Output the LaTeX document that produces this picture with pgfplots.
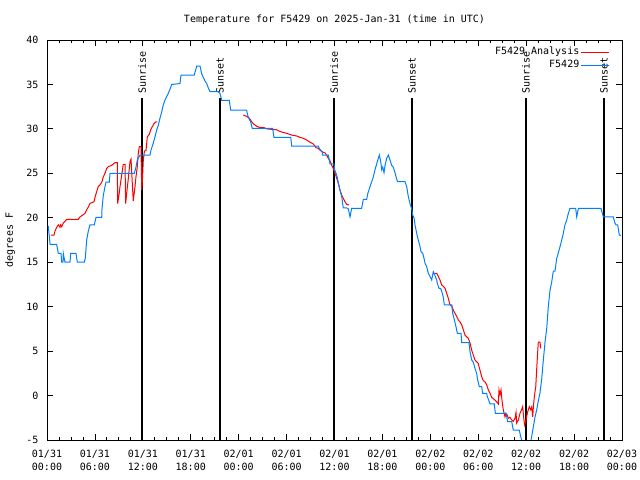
\documentclass[border=0pt]{standalone}
\usepackage{fontspec}
\setmainfont{DejaVu Sans Mono}
\usepackage{pgfplots}
\pgfplotsset{compat=1.18}
\definecolor{obsblue}{RGB}{0,128,255}

\begin{document}
\begin{tikzpicture}
\path[use as bounding box] (0,0) rectangle (640bp,480bp);
\begin{axis}[
  at={(47bp,40bp)}, anchor=south west,
  scale only axis, width=575bp, height=400bp,
  xmin=0, xmax=72, ymin=-5, ymax=40,
  xtick={0,6,...,72}, minor x tick num=3,
  xticklabels={{01/31\\00:00},{01/31\\06:00},{01/31\\12:00},{01/31\\18:00},
    {02/01\\00:00},{02/01\\06:00},{02/01\\12:00},{02/01\\18:00},
    {02/02\\00:00},{02/02\\06:00},{02/02\\12:00},{02/02\\18:00},{02/03\\00:00}},
  ytick={-5,0,...,40},
  tick align=inside,
  major tick length=6bp, minor tick length=3bp,
  every tick/.style={black, line width=0.8bp},
  axis line style={line width=0.8bp},
  font=\fontsize{10bp}{13bp}\selectfont,
  x tick label style={align=center, yshift=-7bp},
  y tick label style={xshift=-5bp},
  /pgf/number format/assume math mode=true,
  title={Temperature for F5429 on 2025-Jan-31 (time in UTC)},
  title style={at={(axis description cs:0.5,1.035)}, anchor=center},
  ylabel={degrees F},
  ylabel style={at={(axis description cs:-0.0643,0.5)}, anchor=center},
  legend cell align=right,
  legend plot pos=right,
  legend image code/.code={\draw[#1, line width=1bp] (0bp,0bp) -- (28bp,0bp);},
  legend style={draw=none, fill=none, at={(axis description cs:1,1)},
    anchor=north east, xshift=-12bp, yshift=-5.5bp, row sep=0bp,
    inner sep=0pt,
    nodes={inner sep=1.5bp, text height=7.7bp, text depth=2.2bp},
    /tikz/every even column/.append style={column sep=9bp}},
]
% sunrise / sunset markers
\addplot[black, line width=1.5bp, forget plot] coordinates {(11.92,-5) (11.92,33.47)};
\addplot[black, line width=1.5bp, forget plot] coordinates {(21.67,-5) (21.67,33.47)};
\addplot[black, line width=1.5bp, forget plot] coordinates {(35.95,-5) (35.95,33.47)};
\addplot[black, line width=1.5bp, forget plot] coordinates {(45.70,-5) (45.70,33.47)};
\addplot[black, line width=1.5bp, forget plot] coordinates {(59.98,-5) (59.98,33.47)};
\addplot[black, line width=1.5bp, forget plot] coordinates {(69.73,-5) (69.73,33.47)};
\node[rotate=90, anchor=west, inner sep=0pt] at (axis cs:11.92,34.0) {Sunrise};
\node[rotate=90, anchor=west, inner sep=0pt] at (axis cs:21.67,34.0) {Sunset};
\node[rotate=90, anchor=west, inner sep=0pt] at (axis cs:35.95,34.0) {Sunrise};
\node[rotate=90, anchor=west, inner sep=0pt] at (axis cs:45.70,34.0) {Sunset};
\node[rotate=90, anchor=west, inner sep=0pt] at (axis cs:59.98,34.0) {Sunrise};
\node[rotate=90, anchor=west, inner sep=0pt] at (axis cs:69.73,34.0) {Sunset};

% analysis (three pieces)
\addplot[red, line width=1bp, unbounded coords=jump] coordinates {
(0.50,18.06)(0.88,18.06)(1.00,18.5)(1.21,18.93)(1.42,19.2)(1.63,18.93)(1.71,19.2)
(1.84,19.0)(2.04,19.4)(2.25,19.6)(2.47,19.83)(3.92,19.83)(4.13,20.1)(4.47,20.3)
(4.76,20.5)(4.97,20.9)(5.17,21.2)(5.38,21.6)(5.60,21.7)(5.89,21.8)(6.01,22.3)
(6.22,22.94)(6.42,23.5)(6.64,23.7)(6.89,24.06)(7.05,24.6)(7.26,25.0)(7.48,25.56)
(7.68,25.75)(8.10,25.9)(8.51,26.2)(8.80,26.2)(8.85,21.6)(9.02,22.6)(9.14,23.5)
(9.35,24.8)(9.55,26.0)(9.77,26.0)(9.85,21.6)(9.98,22.8)(10.18,24.4)(10.39,26.3)
(10.52,26.6)(10.80,21.9)(11.02,23.5)(11.14,24.6)(11.30,25.7)(11.43,27.25)(11.56,28.0)
(11.77,28.0)(11.86,23.1)(11.96,24.5)(12.06,26.5)(12.20,27.5)(12.40,27.6)(12.56,29.1)
(12.81,29.4)(12.99,29.9)(13.19,30.25)(13.40,30.6)(13.65,30.8)(13.81,30.8)
(13.9,nan)
(24.58,31.56)(25.01,31.4)(25.33,31.2)(25.63,30.8)(25.92,30.5)(26.26,30.3)(26.59,30.17)
(27.09,30.17)(27.51,30.0)(28.76,29.9)(29.18,29.7)(30.02,29.5)(30.64,29.3)(31.27,29.2)
(31.68,29.05)(32.09,28.94)(32.52,28.75)(32.93,28.5)(33.35,28.3)(33.68,27.9)(33.97,27.8)
(34.18,27.6)(34.52,27.4)(34.81,27.3)(35.02,27.06)(35.22,26.7)(35.44,26.4)(35.65,25.9)
(35.85,25.56)(36.06,25.0)(36.19,24.7)(36.35,24.25)(36.53,23.7)(36.69,23.1)(36.90,22.56)
(37.10,22.2)(37.32,21.8)(37.53,21.5)(37.82,21.44)
(38.0,nan)
(48.50,13.75)(48.80,13.75)(49.00,13.4)(49.21,13.0)(49.42,12.44)(49.62,12.3)(49.84,12.06)
(50.05,11.5)(50.25,10.94)(50.46,10.2)(50.68,10.1)(50.88,9.6)(51.09,9.25)(51.30,8.9)
(51.50,8.5)(51.71,8.3)(51.93,7.94)(52.13,7.4)(52.34,6.8)(52.55,6.6)(52.76,6.44)
(52.97,5.9)(53.18,5.1)(53.38,4.56)(53.59,4.0)(53.80,3.8)(54.00,3.6)(54.21,2.88)
(54.43,2.12)(54.63,1.68)(54.84,1.55)(55.06,1.2)(55.26,0.63)(55.47,0.25)(55.68,-0.2)
(55.88,-0.35)(56.09,-0.5)(56.30,-0.7)(56.51,-0.95)(56.60,0.63)(56.72,0.1)(56.85,0.63)
(56.97,-0.5)(57.14,-1.63)(57.35,-2.4)(57.47,-2.0)(57.64,-2.2)(57.76,-2.56)(57.97,-2.45)
(58.19,-2.75)(58.39,-2.9)(58.60,-2.56)(58.73,-1.9)(58.81,-3.1)(59.02,-2.75)(59.23,-2.0)
(59.44,-1.55)(59.56,-1.25)(59.72,-2.75)(59.81,-3.3)(59.98,-2.75)(60.14,-2.0)(60.27,-1.6)
(60.39,-1.25)(60.57,-1.6)(60.69,-1.3)(60.82,-2.4)(60.90,-1.3)(61.02,-0.13)(61.20,1.0)
(61.32,3.0)(61.45,5.0)(61.52,6.0)(61.73,6.0)(61.82,5.3)
};
\addlegendentry{F5429 Analysis}

% observations
\addplot[obsblue, line width=1bp] coordinates {
(0.15,19.1)(0.34,17.5)(0.38,17.0)(1.21,17.0)(1.42,16.0)(1.75,16.0)(1.84,15.0)(2.00,15.0)
(2.04,16.0)(2.25,15.0)(2.88,15.0)(2.97,16.0)(3.63,16.0)(3.80,15.0)(4.67,15.0)(4.80,15.5)
(4.97,17.5)(5.17,18.5)(5.38,19.2)(5.92,19.2)(6.14,20.05)(6.85,20.05)(6.89,21.07)(7.05,22.5)
(7.26,23.5)(7.39,24.0)(7.80,24.0)(7.89,25.0)(10.93,25.0)(11.14,25.7)(11.31,26.5)(11.65,27.06)
(12.90,27.06)(13.02,27.6)(13.31,28.4)(13.52,29.1)(13.74,29.9)(13.94,30.4)(14.15,31.2)
(14.36,31.9)(14.56,32.7)(14.78,33.25)(15.19,34.0)(15.40,34.45)(15.61,35.0)(16.65,35.1)
(16.78,36.06)(18.44,36.06)(18.75,37.07)(19.16,37.07)(19.37,36.2)(19.78,35.4)(20.00,35.1)
(20.20,34.6)(20.41,34.2)(21.45,34.2)(21.66,34.0)(21.88,33.2)(22.83,33.2)(23.00,32.1)
(25.00,32.1)(25.12,31.56)(25.33,31.07)(25.50,30.8)(25.70,30.07)(28.26,30.07)(28.34,29.5)
(28.42,29.05)(30.52,29.05)(30.64,28.07)(33.97,28.07)(34.10,27.8)(34.27,27.6)(34.44,27.44)
(34.52,27.06)(35.22,27.06)(35.35,26.5)(35.44,26.05)(35.94,26.05)(36.02,25.4)(36.19,25.0)
(36.35,24.55)(36.48,23.9)(36.69,23.1)(36.90,22.4)(37.10,21.1)(37.53,21.1)(37.73,21.0)
(37.94,20.1)(38.15,21.07)(39.40,21.07)(39.61,22.07)(40.03,22.07)(40.16,22.7)(40.45,23.5)
(40.66,24.06)(40.86,24.6)(41.07,25.4)(41.28,26.05)(41.49,26.7)(41.62,27.06)(41.79,26.3)
(41.91,25.4)(42.04,25.7)(42.20,25.07)(42.33,25.9)(42.54,26.7)(42.74,27.06)(42.95,26.5)
(43.16,25.9)(43.36,25.7)(43.58,25.07)(43.79,24.33)(43.91,24.06)(44.83,24.06)(45.04,23.5)
(45.24,22.4)(45.45,21.6)(45.67,21.0)(45.79,20.3)(45.96,20.0)(46.08,19.2)(46.29,18.25)
(46.49,17.5)(46.71,16.75)(46.83,16.2)(47.05,16.0)(47.21,15.44)(47.33,14.9)(47.54,14.5)
(47.75,13.75)(47.96,13.4)(48.17,13.0)(48.37,13.94)(48.58,13.5)(48.80,13.0)(48.88,12.6)
(49.09,12.06)(49.30,12.06)(49.50,11.5)(49.63,11.0)(49.75,10.2)(50.68,10.2)(50.80,9.25)
(50.96,8.69)(51.21,7.75)(51.38,7.0)(51.84,7.0)(51.93,5.95)(52.84,5.95)(52.97,4.94)
(53.18,4.0)(53.38,3.75)(53.59,3.06)(53.80,2.5)(53.93,1.75)(54.13,1.0)(54.43,1.0)
(54.55,0.25)(55.06,0.25)(55.13,-0.13)(55.26,-0.4)(55.47,-0.95)(56.01,-0.95)(56.14,-2.0)
(57.48,-2.0)(57.56,-2.4)(57.69,-2.94)(58.19,-2.94)(58.39,-3.9)(59.14,-3.9)(59.31,-4.6)
(59.44,-5.0)(59.85,-6.5)(60.40,-6.5)(60.61,-5.0)(60.69,-4.6)(60.90,-3.5)(61.11,-2.4)
(61.32,-1.6)(61.52,-0.6)(61.73,0.3)(61.95,1.9)(62.15,4.0)(62.36,6.0)(62.57,7.5)
(62.77,10.0)(62.98,11.8)(63.20,12.8)(63.40,14.0)(63.61,14.0)(63.82,15.4)(64.03,16.07)
(64.24,16.75)(64.45,17.5)(64.65,18.25)(64.86,19.2)(65.08,19.75)(65.28,20.5)(65.49,21.07)
(66.20,21.07)(66.33,20.1)(66.54,21.07)(69.37,21.07)(69.66,20.1)(70.91,20.1)(71.12,19.4)
(71.25,19.2)(71.46,19.2)(71.66,18.06)(71.87,18.0)
};
\addlegendentry{F5429}
\end{axis}
\end{tikzpicture}
\end{document}
